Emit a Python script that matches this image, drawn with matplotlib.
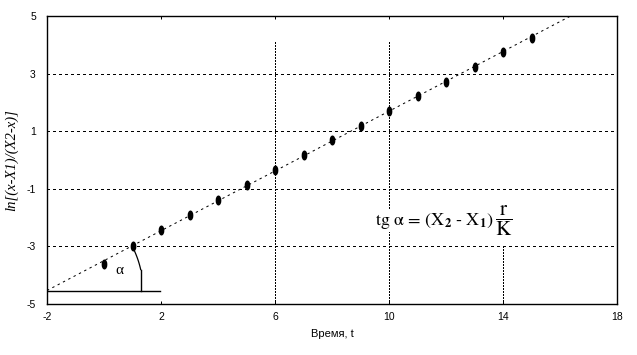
import numpy as np
import matplotlib
matplotlib.use("Agg")
import matplotlib.pyplot as plt
from matplotlib.path import Path

# measured points: ln[(x-X1)/(X2-x)] versus time
t_values = [0, 1, 2, 3, 4, 5, 6, 7, 8, 9, 10, 11, 12, 13, 14, 15]
ln_values = [-3.62, -2.99, -2.43, -1.91, -1.39, -0.87, -0.35, 0.17,
             0.69, 1.18, 1.71, 2.22, 2.72, 3.23, 3.74, 4.25]

x_ticks = [-2, 2, 6, 10, 14, 18]
y_ticks = [-5, -3, -1, 1, 3, 5]
y_grid = [-3, -1, 1, 3]

# vertical guides: (x, y_top)
guides = [(6, 4.17), (10, 4.17), (14, -3.0)]

PX = 0.72  # one pixel in points at dpi 100
plt.rcParams["lines.scale_dashes"] = False
plt.rcParams["axes.unicode_minus"] = False


def ellipse_marker() -> Path:
    circle = Path.unit_circle()
    verts = circle.vertices * np.array([0.5, 1.0])
    return Path(verts, circle.codes)


def main() -> None:
    fig = plt.figure(figsize=(6.37, 3.55), dpi=100)
    ax = fig.add_axes([47 / 637, 51 / 355, 570 / 637, 288 / 355])
    ax.set_xlim(-2, 18)
    ax.set_ylim(-5, 5)

    # horizontal dotted grid
    for y in y_grid:
        ax.axhline(y, color="black", lw=PX, ls=(0, (2.2 * PX, 3.5 * PX)),
                   antialiased=False, zorder=1)

    # vertical dotted guides
    for x, top in guides:
        ax.plot([x, x], [-5, top], color="black", lw=PX, ls=(0, (1.0, 1.0)),
                antialiased=False, zorder=1)

    # regression line
    slope, intercept = np.polyfit(t_values, ln_values, 1)
    xs = np.array([-2.0, 18.0])
    ax.plot(xs, slope * xs + intercept, color="black", lw=PX,
            ls=(0, (2.4 * PX, 3.6 * PX)), zorder=2)

    ax.plot(t_values, ln_values, ls="none", marker=ellipse_marker(),
            markersize=6.2, color="black", zorder=3)

    # angle alpha construction
    y0 = slope * -2 + intercept
    ax.plot([-2, 1.98], [y0, y0], color="black", lw=1.0, zorder=2)
    rx, ry = 96 / 28.5, 96 / 28.8
    ang = np.degrees(np.arctan(slope * 28.8 / 28.5))
    phi = np.radians(np.linspace(12.6, ang, 30))
    ax.plot(-2 + rx * np.cos(phi), y0 + ry * np.sin(phi), color="black", lw=0.9, zorder=2)
    xe = -2 + rx * np.cos(np.radians(12.6))
    ax.plot([xe, xe], [y0, y0 + ry * np.sin(np.radians(12.6))], color="black", lw=1.0, zorder=2)
    ax.text(0.55, -3.82, "α", family="Liberation Serif", fontsize=11,
            ha="center", va="center")

    formula = ax.text(
        9.5, -2.12,
        r"$\mathrm{tg}\ \mathrm{α}\,=\,(\mathrm{X}_{\mathbf{2}}\ \mathrm{‐}\ \mathrm{X}_{\mathbf{1}})$",
        fontsize=13, math_fontfamily="stix", ha="left", va="center",
        bbox=dict(facecolor="white", edgecolor="none", pad=0.5), zorder=4)
    ax.annotate(r"$\dfrac{\mathrm{r}}{\mathrm{K}}$", xy=(1, 0.5), xycoords=formula,
                xytext=(1, 0), textcoords="offset points",
                fontsize=15, math_fontfamily="stix", ha="left", va="center",
                bbox=dict(facecolor="white", edgecolor="none", pad=0.3), zorder=4)

    ax.set_xticks(x_ticks)
    ax.set_yticks(y_ticks)
    ax.tick_params(axis="x", direction="in", length=2.5, width=PX, top=True,
                   labelsize=7.5, pad=6)
    ax.tick_params(axis="y", length=0, labelsize=7.5, pad=8)
    for label in ax.get_xticklabels() + ax.get_yticklabels():
        label.set_family("Liberation Sans")
    for spine in ax.spines.values():
        spine.set_linewidth(1.0)

    ax.set_xlabel("Время, t", family="Liberation Sans", fontsize=8, labelpad=5)
    ax.set_ylabel("ln[(x-X1)/(X2-x)]", family="Liberation Serif", style="italic",
                  fontsize=10.5)
    ax.yaxis.set_label_coords(-0.05, 0.5)

    fig.savefig("out.png", dpi=100)


if __name__ == "__main__":
    main()
